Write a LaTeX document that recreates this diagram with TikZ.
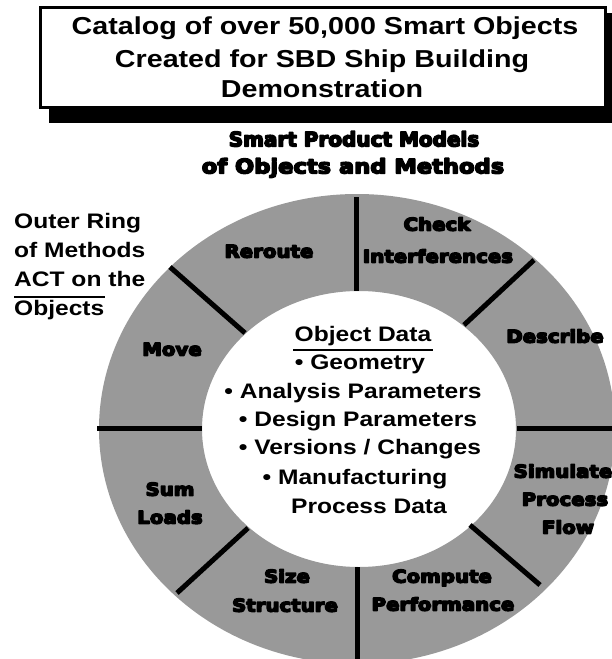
\documentclass[tikz,border=0pt]{standalone}
\usepackage{fontspec}
\newfontfamily\plainfont[FakeStretch=1.17]{Liberation Sans}
\newfontfamily\heavyfont[FakeStretch=1.13]{DejaVu Sans}
\newfontfamily\heavynarrow[FakeStretch=1.0]{DejaVu Sans}
\definecolor{ringgray}{gray}{0.6}
\tikzset{
  % glyph outlines are stroked as well as filled for a black-weight look
  outlined/.style={
    execute at begin node={\special{pdf:literal direct 2 Tr 1.5 w 1 j}},
    execute at end node={\special{pdf:literal direct 0 Tr}}},
  titletxt/.style={anchor=base,inner sep=0pt,font=\plainfont\bfseries\fontsize{24.5}{31}\selectfont},
  subtxt/.style={anchor=base,inner sep=0pt,outlined,font=\heavyfont\bfseries\fontsize{20}{27}\selectfont},
  subnarrow/.style={subtxt,font=\heavynarrow\bfseries\fontsize{20}{27}\selectfont},
  sidetxt/.style={anchor=base west,inner sep=0pt,font=\plainfont\bfseries\fontsize{21}{29}\selectfont},
  datatxt/.style={anchor=base,inner sep=0pt,font=\plainfont\bfseries\fontsize{21}{28}\selectfont},
  methodtxt/.style={anchor=base,inner sep=0pt,outlined,font=\heavyfont\bfseries\fontsize{17.5}{28}\selectfont},
  divider/.style={line width=5pt,line cap=butt},
  rule/.style={line width=2pt},
}
\begin{document}
\begin{tikzpicture}[x=1pt,y=-1pt]
\useasboundingbox (0,0) rectangle (612,659);
\clip (0,0) rectangle (612,659);

% title box with drop shadow
\fill (49,13) rectangle (612,123);
\filldraw[fill=white,line width=3pt] (40,7) rectangle (605,107);
\node[titletxt] (t1) at (325,34.8) {Catalog of over 50,000 Smart Objects};
\node[titletxt] (t2) at (322,67.8) {Created for SBD Ship Building};
\node[titletxt] (t3) at (322,97.8) {Demonstration};

% heading above the wheel
\node[subnarrow] (s1) at (354,146.4) {Smart Product Models};
\node[subtxt] (s2) at (353,173.4) {of Objects and Methods};

% note on the left
\node[sidetxt] (n1) at (14,228.7) {Outer Ring};
\node[sidetxt] (n2) at (14,257.7) {of Methods};
\node[sidetxt] (n3) at (14,286.7) {ACT on the};
\node[sidetxt] (n4) at (14,315.7) {Objects};
\draw[rule] (n4.west |- 0,297) -- (n4.east |- 0,297);

% ring of methods around the data core
\fill[ringgray,even odd rule]
  (357,429) ellipse [x radius=258,y radius=235]
  (359,429) ellipse [x radius=157,y radius=138];

% ring dividers
\draw[divider] (356,197) -- (356,291);
\draw[divider] (357,567) -- (357,665);
\draw[divider] (97,428) -- (202,428);
\draw[divider] (517,428) -- (615,428);
\draw[divider] (170,267) -- (245,333);
\draw[divider] (534,260) -- (464,325);
\draw[divider] (248,528) -- (177,593);
\draw[divider] (470,525) -- (540,585);

% methods
\node[methodtxt] (m1) at (269,257.6) {Reroute};
\node[methodtxt] (m2a) at (437,230.6) {Check};
\node[methodtxt] (m2b) at (438,262.6) {Interferences};
\node[methodtxt] (m3) at (555,342.6) {Describe};
\node[methodtxt] (m4) at (172,355.6) {Move};
\node[methodtxt] (m5a) at (170,495.6) {Sum};
\node[methodtxt] (m5b) at (170,523.6) {Loads};
\node[methodtxt] (m6a) at (563,477.6) {Simulate};
\node[methodtxt] (m6b) at (565,505.6) {Process};
\node[methodtxt] (m6c) at (568,533.6) {Flow};
\node[methodtxt] (m7a) at (287,582.6) {Size};
\node[methodtxt] (m7b) at (285,611.6) {Structure};
\node[methodtxt] (m8a) at (442,582.6) {Compute};
\node[methodtxt] (m8b) at (443,610.6) {Performance};

% object data in the core
\node[datatxt] (d0) at (363,341.7) {Object Data};
\draw[rule] (293,350) -- (433,350);
\node[datatxt] (d1) at (360,369.7) {• Geometry};
\node[datatxt] (d2) at (353,398.7) {• Analysis Parameters};
\node[datatxt] (d3) at (358,426.7) {• Design Parameters};
\node[datatxt] (d4) at (360,454.7) {• Versions / Changes};
\node[datatxt] (d5) at (355,484.7) {• Manufacturing};
\node[datatxt] (d6) at (369,513.7) {Process Data};
\end{tikzpicture}
\end{document}
